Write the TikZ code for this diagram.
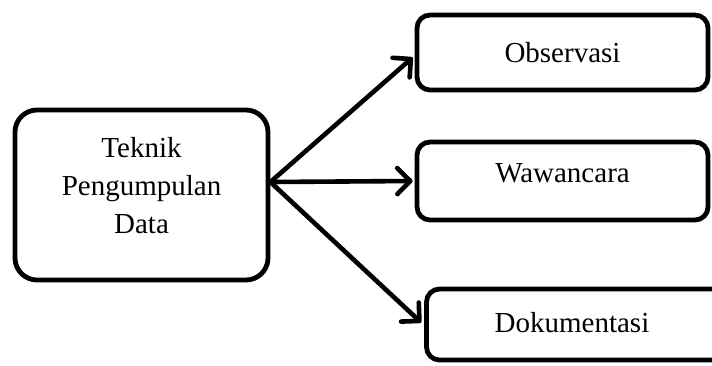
\documentclass[tikz,border=0pt]{standalone}
\usepackage{fontspec}
\setmainfont{Liberation Serif}
\usetikzlibrary{arrows.meta}
\begin{document}
\begin{tikzpicture}[x=1pt,y=-1pt,
  box/.style={draw, line width=4.8pt, rounded corners=13pt, font=\fontsize{29}{38}\selectfont,
    align=center, inner sep=0pt, minimum width=291pt},
  conn/.style={line width=4.6pt, line cap=round, -{Straight Barb[length=13pt,width=26pt,line cap=round,line join=round]}}]
\useasboundingbox (0,0) rectangle (712,365);
\node[box, rounded corners=22pt, minimum width=253pt, minimum height=170pt] (src) at (141.5,195)
  {Teknik\\Pengumpulan\\Data\rule[-19pt]{0pt}{19pt}};
\node[box, minimum height=75pt] (obs) at (562.5,52.5) {Observasi};
\node[box, minimum height=78pt] (waw) at (562.5,181) {Wawancara\rule[-16pt]{0pt}{16pt}};
\node[box, minimum width=310pt, minimum height=71pt] (dok) at (581.5,324.5) {Dokumentasi\rule[-5pt]{0pt}{5pt}\hspace*{19pt}};
\coordinate (hub) at ([yshift=13pt]src.east);
\draw[conn] (hub) -- ([xshift=-2pt,yshift=-5pt]obs.west);
\draw[conn] (hub) -- ([xshift=-2pt]waw.west);
\draw[conn] (hub) -- ([xshift=-3pt,yshift=2pt]dok.west);
\end{tikzpicture}
\end{document}
